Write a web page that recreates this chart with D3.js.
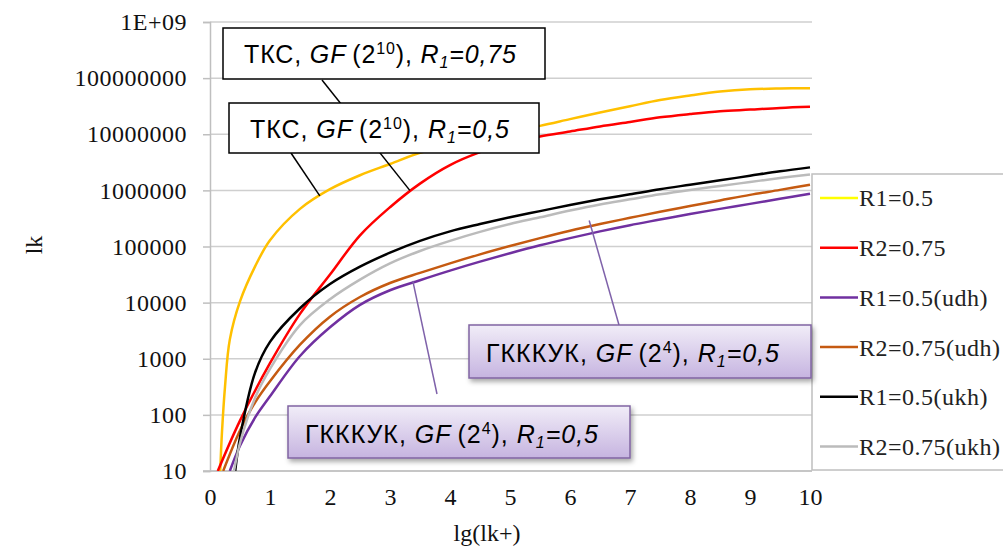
<!DOCTYPE html>
<html>
<head>
<meta charset="utf-8">
<script src="https://cdn.jsdelivr.net/npm/d3@7"></script>
<style>
  html, body { margin: 0; padding: 0; background: #fff; }
  svg { display: block; }
</style>
</head>
<body>
<div id="chart"></div>
<script>
// Values (x = lg(lk+), y = lk)
const yellowR1 = [[0.17,10],[0.2,50],[0.25,316],[0.33,2190],[0.5,1.05e4],[0.75,4.37e4],[1,1.29e5],[1.5,4.68e5],[2,1.05e6],[2.5,1.86e6],[3,2.95e6],[3.5,4.68e6],[4,6.31e6],[4.5,8.51e6],[5,1.12e7],[5.5,1.41e7],[6,1.86e7],[6.5,2.45e7],[7,3.16e7],[7.5,4.07e7],[8,4.9e7],[8.5,5.75e7],[9,6.31e7],[9.5,6.53e7],[10,6.61e7]];
const redR2 = [[0.13,10],[0.5,79],[1,832],[1.5,6310],[2,3.16e4],[2.5,1.58e5],[3,5.01e5],[3.5,1.32e6],[4,2.82e6],[4.5,4.79e6],[5,7.08e6],[5.5,9.12e6],[6,1.12e7],[6.5,1.38e7],[7,1.66e7],[7.5,2.0e7],[8,2.29e7],[8.5,2.57e7],[9,2.75e7],[9.5,2.95e7],[10,3.09e7]];
const purpleUdh = [[0.33,10],[0.5,28.2],[0.75,89],[1,214],[1.5,1120],[2,3630],[2.5,9120],[3,1.66e4],[3.5,2.51e4],[4,3.72e4],[4.5,5.37e4],[5,7.59e4],[5.5,1.05e5],[6,1.41e5],[6.5,1.86e5],[7,2.4e5],[7.5,3.02e5],[8,3.8e5],[8.5,4.68e5],[9,5.75e5],[9.5,7.08e5],[10,8.71e5]];
const brownUdh = [[0.22,10],[0.5,52.5],[0.75,166],[1,398],[1.5,1780],[2,5620],[2.5,1.26e4],[3,2.24e4],[3.5,3.39e4],[4,5.01e4],[4.5,7.24e4],[5,1.02e5],[5.5,1.41e5],[6,1.91e5],[6.5,2.51e5],[7,3.24e5],[7.5,4.17e5],[8,5.25e5],[8.5,6.61e5],[9,8.32e5],[9.5,1.02e6],[10,1.26e6]];
const blackUkh = [[0.42,10],[0.5,40],[0.75,562],[1,2000],[1.5,7940],[2,2.14e4],[2.5,4.37e4],[3,7.76e4],[3.5,1.26e5],[4,1.86e5],[4.5,2.51e5],[5,3.31e5],[5.5,4.27e5],[6,5.5e5],[6.5,6.92e5],[7,8.51e5],[7.5,1.05e6],[8,1.26e6],[8.5,1.51e6],[9,1.82e6],[9.5,2.19e6],[10,2.57e6]];
const grayUkh = [[0.4,10],[0.5,31.6],[0.75,200],[1,661],[1.5,3980],[2,1.15e4],[2.5,2.57e4],[3,5.01e4],[3.5,8.32e4],[4,1.26e5],[4.5,1.82e5],[5,2.51e5],[5.5,3.31e5],[6,4.37e5],[6.5,5.62e5],[7,6.92e5],[7.5,8.51e5],[8,1.02e6],[8.5,1.2e6],[9,1.41e6],[9.5,1.66e6],[10,1.91e6]];

const seriesNames = ['R1=0.5', 'R2=0.75', 'R1=0.5(udh)', 'R2=0.75(udh)', 'R1=0.5(ukh)', 'R2=0.75(ukh)'];
const seriesData = [yellowR1, redR2, purpleUdh, brownUdh, blackUkh, grayUkh];
const lineColors = ['#FFC000', '#FF0000', '#7030A0', '#C55A11', '#000000', '#BBBBBB'];
const legendColors = ['#FFFF00', '#FF0000', '#7030A0', '#C55A11', '#000000', '#BBBBBB'];

const xTicks = [0, 1, 2, 3, 4, 5, 6, 7, 8, 9, 10];
const yTicks = [10, 100, 1000, 1e4, 1e5, 1e6, 1e7, 1e8, 1e9];
const yTickLabels = ['10', '100', '1000', '10000', '100000', '1000000', '10000000', '100000000', '1E+09'];

// callouts: anchor point in data units, leader start and box in pixels
const blackCallouts = [
  { r: '0,75', anchor: [3.33, 1.0e6], from: [322, 80], box: [223, 28, 322, 51], textW: 272 },
  { r: '0,5', anchor: [1.83, 8.0e5], from: [291, 153], box: [229, 103, 310, 50], textW: 259 }
];
const purpleCallouts = [
  { r: '0,5', anchor: [6.32, 2.9e5], from: [619, 325], box: [469, 325, 342, 53], textW: 293 },
  { r: '0,5', anchor: [3.38, 2.45e4], from: [437, 394], box: [288, 406, 342, 52], textW: 293 }
];

const W = 1003, H = 550;
const serif = "'Liberation Serif', 'Times New Roman', serif";
const sans = "'Liberation Sans', Arial, sans-serif";

const svg = d3.select('#chart').append('svg').attr('width', W).attr('height', H);
svg.append('rect').attr('width', W).attr('height', H).attr('fill', '#fff');

const x = d3.scaleLinear().domain([0, 10]).range([210, 810]);
const y = d3.scaleLog().domain([10, 1e9]).range([471, 22]);
const gridRight = 812;

const defs = svg.append('defs');
defs.append('clipPath').attr('id', 'plotClip')
  .append('rect').attr('x', 210).attr('y', 15).attr('width', gridRight - 210).attr('height', 456);
const grad = defs.append('linearGradient').attr('id', 'lav').attr('x1', 0).attr('y1', 0).attr('x2', 0).attr('y2', 1);
grad.append('stop').attr('offset', '0%').attr('stop-color', '#F1EDF8');
grad.append('stop').attr('offset', '100%').attr('stop-color', '#C6B4E0');
const shadow = defs.append('filter').attr('id', 'shadow').attr('x', '-10%').attr('y', '-20%').attr('width', '130%').attr('height', '160%');
shadow.append('feDropShadow').attr('dx', 2).attr('dy', 3).attr('stdDeviation', 2.5).attr('flood-color', '#000').attr('flood-opacity', 0.35);

// Grid
svg.append('g').selectAll('line')
  .data(yTicks).enter().append('line')
  .attr('x1', 210).attr('x2', gridRight)
  .attr('y1', d => y(d)).attr('y2', d => y(d))
  .attr('stroke', '#CFCFCF').attr('stroke-width', 1.5);

// Axes
const yAxis = svg.append('g').attr('transform', 'translate(210,0)')
  .call(d3.axisLeft(y).tickValues(yTicks).tickFormat((d, i) => yTickLabels[i]).tickSize(7).tickPadding(16));
yAxis.select('.domain').attr('stroke', '#BFBFBF').attr('stroke-width', 1.5);
yAxis.selectAll('line').attr('stroke', '#BFBFBF').attr('stroke-width', 1.5);
yAxis.selectAll('text').attr('fill', '#111').attr('font-family', serif).attr('font-size', '24px')
  .attr('letter-spacing', '0.5px');

const xAxis = svg.append('g').attr('transform', 'translate(0,471)')
  .call(d3.axisBottom(x).tickValues(xTicks).tickFormat(d3.format('d')).tickSize(0).tickPadding(17));
xAxis.select('.domain').attr('stroke', '#BFBFBF').attr('stroke-width', 1.5).attr('d', `M203,0H${gridRight}`);
xAxis.selectAll('text').attr('fill', '#111').attr('font-family', serif).attr('font-size', '24px');

svg.append('text').attr('x', 487).attr('y', 541).attr('text-anchor', 'middle')
  .attr('font-family', serif).attr('font-size', '24px').attr('fill', '#111').text('lg(lk+)');
svg.append('text').attr('transform', 'translate(42,245) rotate(-90)').attr('text-anchor', 'middle')
  .attr('font-family', serif).attr('font-size', '24px').attr('fill', '#111').text('lk');

// Lines
const line = d3.line().x(d => x(d[0])).y(d => y(d[1])).curve(d3.curveCatmullRom.alpha(0.5));
const lines = svg.append('g').attr('clip-path', 'url(#plotClip)');
lines.selectAll('path')
  .data(seriesData).enter().append('path')
  .attr('d', line)
  .attr('fill', 'none')
  .attr('stroke', (d, i) => lineColors[i])
  .attr('stroke-width', 2.5);

// Legend
const lg = svg.append('g');
lg.append('rect').attr('x', gridRight).attr('y', 174).attr('width', 220).attr('height', 296)
  .attr('fill', '#fff').attr('stroke', '#BFBFBF').attr('stroke-width', 1.5);
seriesNames.forEach((name, i) => {
  const ly = 198 + i * 49.7;
  lg.append('line').attr('x1', 820).attr('x2', 858).attr('y1', ly).attr('y2', ly)
    .attr('stroke', legendColors[i]).attr('stroke-width', 2.5);
  lg.append('text').attr('x', 859).attr('y', ly).attr('dy', '0.35em')
    .attr('font-family', serif).attr('font-size', '24px').attr('letter-spacing', '0.5px')
    .attr('fill', '#222').text(name);
});

function labelText(g, bx, by, pre, gfExp, r, w) {
  const t = g.append('text').attr('x', bx).attr('y', by)
    .attr('font-family', sans).attr('font-size', '25px').attr('fill', '#000')
    .attr('textLength', w).attr('lengthAdjust', 'spacing');
  t.append('tspan').text(pre + ' ');
  t.append('tspan').attr('font-style', 'italic').text('GF');
  t.append('tspan').text('\u2009(2');
  t.append('tspan').attr('font-size', '16px').attr('dy', -9).text(gfExp);
  t.append('tspan').attr('dy', 9).text('), ');
  t.append('tspan').attr('font-style', 'italic').text('R');
  t.append('tspan').attr('font-style', 'italic').attr('font-size', '16px').attr('dy', 5).text('1');
  t.append('tspan').attr('font-style', 'italic').attr('dy', -5).text('=' + r);
  return t;
}

// Black-bordered callouts (leaders first so later boxes hide them)
const cg = svg.append('g');
blackCallouts.forEach(c => {
  cg.append('line').attr('x1', c.from[0]).attr('y1', c.from[1])
    .attr('x2', x(c.anchor[0])).attr('y2', y(c.anchor[1]))
    .attr('stroke', '#000').attr('stroke-width', 1.5);
});
blackCallouts.forEach(c => {
  const [bx, by, bw, bh] = c.box;
  cg.append('rect').attr('x', bx).attr('y', by).attr('width', bw).attr('height', bh)
    .attr('fill', '#fff').attr('stroke', '#000').attr('stroke-width', 1.5);
  labelText(cg, bx + 21, by + 35, 'ТКС,', '10', c.r, c.textW);
});

// Purple callouts
purpleCallouts.forEach(c => {
  cg.append('line').attr('x1', c.from[0]).attr('y1', c.from[1])
    .attr('x2', x(c.anchor[0])).attr('y2', y(c.anchor[1]))
    .attr('stroke', '#7F62AA').attr('stroke-width', 1.5);
});
purpleCallouts.forEach(c => {
  const [bx, by, bw, bh] = c.box;
  cg.append('rect').attr('x', bx).attr('y', by).attr('width', bw).attr('height', bh)
    .attr('fill', 'url(#lav)').attr('stroke', '#8064A2').attr('stroke-width', 1.5)
    .attr('filter', 'url(#shadow)');
  labelText(cg, bx + 17, by + 37, 'ГКККУК,', '4', c.r, c.textW);
});
</script>
</body>
</html>
